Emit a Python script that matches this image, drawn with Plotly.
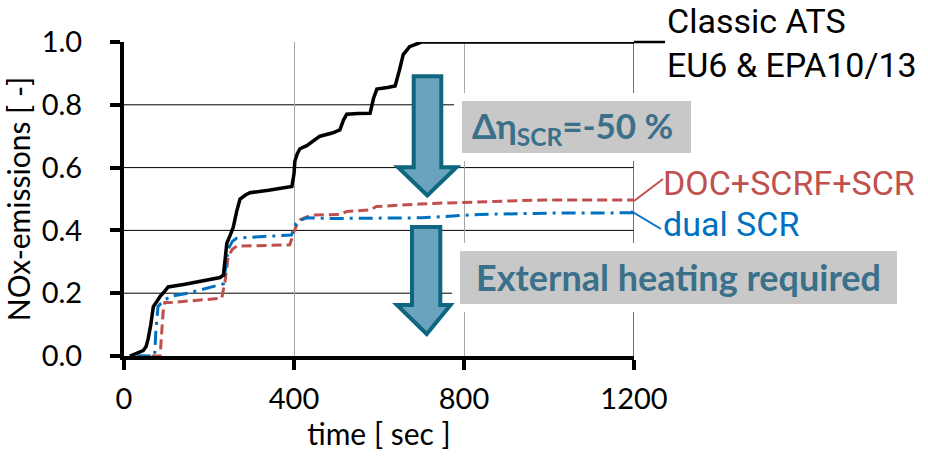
import plotly.graph_objects as go

# ---------------- data ----------------
classic_t = [14, 30, 45, 52, 57, 63, 69, 78, 85, 95, 104, 140, 180, 226, 234, 238, 242, 250,
             257, 265, 273, 285, 296, 340, 395, 400, 402, 408, 414, 430, 445, 461, 490, 508,
             516, 524, 550, 579, 587, 595, 620, 638, 648, 657, 672, 689, 700, 1200]
classic_y = [0.0, 0.01, 0.017, 0.03, 0.056, 0.10, 0.157, 0.175, 0.19, 0.205, 0.22, 0.228, 0.238,
             0.25, 0.258, 0.30, 0.36, 0.385, 0.41, 0.46, 0.50, 0.512, 0.52, 0.528, 0.54, 0.58,
             0.62, 0.645, 0.66, 0.67, 0.685, 0.70, 0.71, 0.72, 0.75, 0.77, 0.772, 0.773, 0.82,
             0.85, 0.855, 0.86, 0.91, 0.96, 0.985, 0.996, 1.0, 1.0]

dual_t = [30, 72, 75, 80, 85, 108, 150, 202, 234, 240, 245, 255, 265, 320, 394, 398, 404, 410,
          430, 492, 600, 700, 838, 1000, 1200]
dual_y = [0.0, 0.0, 0.08, 0.157, 0.165, 0.19, 0.20, 0.22, 0.23, 0.29, 0.34, 0.365, 0.375, 0.38,
          0.385, 0.40, 0.42, 0.43, 0.44, 0.438, 0.438, 0.44, 0.451, 0.455, 0.456]

scrf_t = [30, 85, 88, 92, 96, 108, 230, 234, 238, 245, 255, 265, 390, 394, 398, 406, 414, 430,
          445, 508, 516, 524, 579, 587, 594, 696, 728, 987, 1200]
scrf_y = [0.0, 0.0, 0.06, 0.14, 0.17, 0.17, 0.184, 0.21, 0.24, 0.316, 0.34, 0.35, 0.354, 0.37,
          0.39, 0.415, 0.433, 0.443, 0.449, 0.451, 0.455, 0.46, 0.465, 0.47, 0.476, 0.484, 0.486,
          0.497, 0.497]

x_ticks = [0, 400, 800, 1200]
y_ticks = [0.0, 0.2, 0.4, 0.6, 0.8, 1.0]
grid_y = [0.2, 0.4, 0.6, 0.8]

# ---------------- layout helpers (pixel -> paper) ----------------
W, H = 928, 462
L, R, T, B = 124, 634, 42, 356


def px(x):
    return (x - L) / (R - L)


def py(y):
    return (B - y) / (B - T)


RED = "#C0504D"
BLUE = "#0070C0"
TEAL = "#3A7089"
ARROW_FILL = "#6AA3BD"
ARROW_EDGE = "#0F6680"
BOX_GRAY = "#C8C8C8"
TICKFONT = "Lato, sans-serif"
LABELFONT = "Roboto, 'Noto Sans', sans-serif"

fig = go.Figure()
fig.add_trace(go.Scatter(x=scrf_t, y=scrf_y, mode="lines", name="DOC+SCRF+SCR",
                         line=dict(color=RED, width=3, dash="10px,5px")))
fig.add_trace(go.Scatter(x=dual_t, y=dual_y, mode="lines", name="dual SCR",
                         line=dict(color=BLUE, width=3, dash="14px,6px,3px,6px")))
fig.add_trace(go.Scatter(x=classic_t, y=classic_y, mode="lines", name="Classic ATS",
                         line=dict(color="black", width=3.5)))

shapes = []
# horizontal grid lines
for g in grid_y:
    shapes.append(dict(type="line", xref="x", yref="y", x0=0, x1=1200, y0=g, y1=g,
                       line=dict(color="black", width=1), layer="below"))
# right border line at 1200
shapes.append(dict(type="line", xref="x", yref="y", x0=1200, x1=1200, y0=0, y1=1.0,
                   line=dict(color="#404040", width=1.5), layer="below"))


def box(x0, x1, y0, y1, pad=8):
    shapes.append(dict(type="rect", xref="paper", yref="paper",
                       x0=px(x0 - pad), x1=px(x1 + pad), y0=py(y1 + pad), y1=py(y0 - pad),
                       fillcolor="white", line=dict(width=0), layer="above"))
    shapes.append(dict(type="rect", xref="paper", yref="paper",
                       x0=px(x0), x1=px(x1), y0=py(y1), y1=py(y0),
                       fillcolor=BOX_GRAY, line=dict(width=0), layer="above"))


box(462, 691, 101, 153)
box(460, 897, 251, 304)


def arrow(sl, sr, top, base, hl, hr, tipx, tipy):
    pts = [(sl, top), (sr, top), (sr, base), (hr, base), (tipx, tipy), (hl, base), (sl, base)]
    path = "M " + " L ".join(f"{px(a):.5f},{py(b):.5f}" for a, b in pts) + " Z"
    shapes.append(dict(type="path", xref="paper", yref="paper", path=path,
                       fillcolor=ARROW_FILL, line=dict(color=ARROW_EDGE, width=4),
                       layer="above"))


arrow(413.7, 441.3, 76.3, 167.3, 398, 456.5, 427.3, 195.5)
arrow(412, 440.3, 227, 305, 397, 450.5, 426.7, 334)

# leader lines to labels
shapes.append(dict(type="line", xref="paper", yref="paper", x0=px(634), x1=px(665),
                   y0=py(42), y1=py(42), line=dict(color="black", width=2.5)))
shapes.append(dict(type="line", xref="paper", yref="paper", x0=px(634), x1=px(663),
                   y0=py(201), y1=py(179), line=dict(color=RED, width=2)))
shapes.append(dict(type="line", xref="paper", yref="paper", x0=px(631), x1=px(661),
                   y0=py(211), y1=py(229), line=dict(color=BLUE, width=2)))

annotations = []


def label(text, x, y, color, size, family=LABELFONT, weight="normal"):
    annotations.append(dict(text=text, x=px(x), y=py(y), xref="paper", yref="paper",
                            xanchor="left", yanchor="middle", showarrow=False,
                            font=dict(family=family, size=size, color=color, weight=weight)))


label("Classic ATS", 665, 21, "black", 34)
label("EU6 & EPA10/13", 665, 65, "black", 34)
label("DOC+SCRF+SCR", 661, 183, RED, 34)
label("dual SCR", 661, 224, BLUE, 34)
label("Δη<sub>SCR</sub>=-50 %", 470, 127, TEAL, 35, family="Lato, sans-serif", weight="bold")
label("External heating required", 474, 277, TEAL, 36, family="Lato, sans-serif", weight="bold")

fig.update_layout(
    width=W, height=H,
    margin=dict(l=L, r=W - R, t=T, b=H - B),
    paper_bgcolor="white", plot_bgcolor="white",
    showlegend=False,
    shapes=shapes,
    annotations=annotations,
    xaxis=dict(range=[0, 1200], tickvals=x_ticks, ticktext=[str(v) for v in x_ticks],
               showgrid=True, gridcolor="#A6A6A6", gridwidth=1,
               showline=True, linecolor="black", linewidth=4,
               ticks="outside", ticklen=10, tickwidth=4, tickcolor="black",
               ticklabelstandoff=4,
               tickfont=dict(family=TICKFONT, size=29, color="black"),
               title=dict(text="time [ sec ]", standoff=11,
                          font=dict(family=TICKFONT, size=30, color="black")),
               zeroline=False, automargin=False),
    yaxis=dict(range=[0, 1.0], tickvals=y_ticks, ticktext=[f"{v:.1f}" for v in y_ticks],
               showgrid=False,
               showline=True, linecolor="black", linewidth=4,
               ticks="outside", ticklen=10, tickwidth=4, tickcolor="black",
               ticklabelstandoff=22,
               tickfont=dict(family=TICKFONT, size=29, color="black"),
               title=dict(text="NOx-emissions [ -]", standoff=6,
                          font=dict(family=TICKFONT, size=30, color="black")),
               zeroline=False, automargin=False),
)

fig.write_html("out.html")
